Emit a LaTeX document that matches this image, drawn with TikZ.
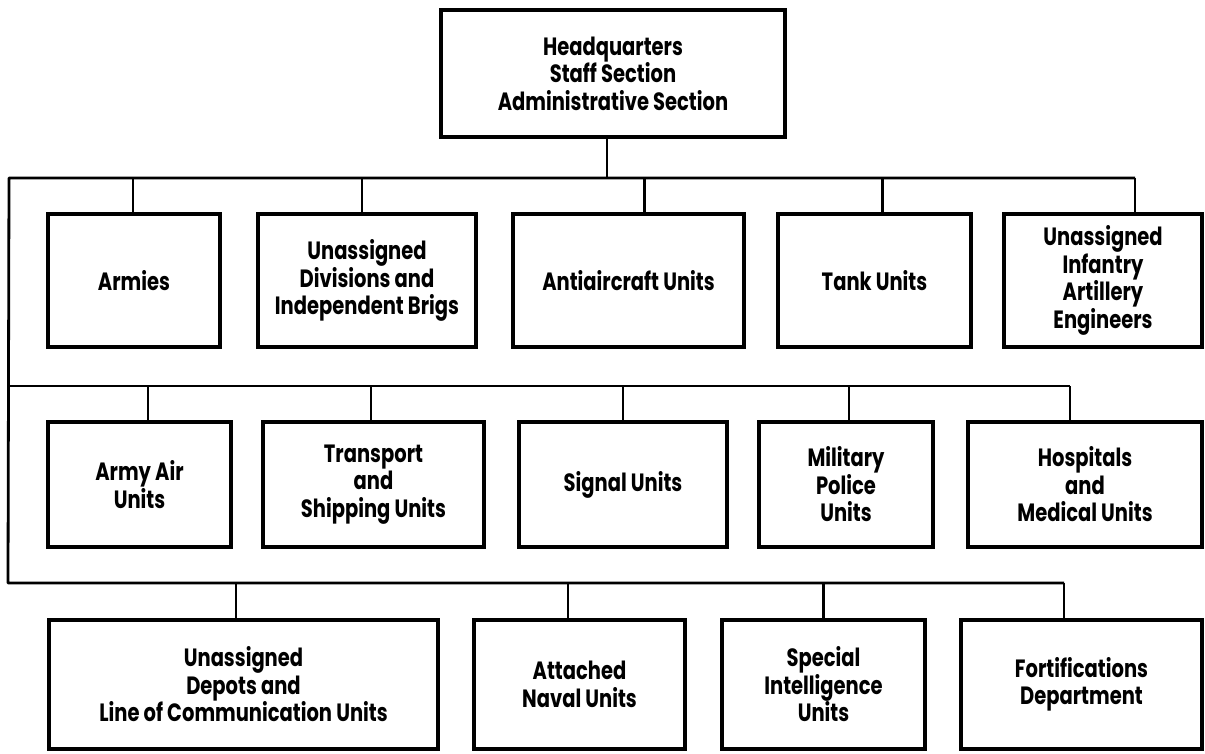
\documentclass[tikz,border=0pt]{standalone}
\usepackage{fontspec}
\newfontfamily\orgfont{Poppins}[FakeStretch=0.78]
\usepackage{tikz}
\usetikzlibrary{positioning, calc}

\tikzset{
  unit/.style={draw, line width=3.4pt, align=center, inner sep=2pt,
    font=\orgfont\bfseries\fontsize{25}{27.5}\selectfont},
  link/.style={line width=2.8pt},
}

\begin{document}
\begin{tikzpicture}[x=1pt, y=-1pt]
      \useasboundingbox (0,0) rectangle (1205,753);

      \node[unit, minimum width=344, minimum height=127] (hq) at (613,73.5) {Headquarters\\Staff Section\\Administrative Section};

      \coordinate (b1l) at (9,178);  \coordinate (b1r) at (1135,178);
      \coordinate (b2l) at (8,386);  \coordinate (b2r) at (1070,386);
      \coordinate (b3l) at (8,583);  \coordinate (b3r) at (1064,583);

      \node[unit, minimum width=172, minimum height=133] (armies) at (134,280.5) {Armies};
      \node[unit, minimum width=218, minimum height=133] (divs) at (367,280.5) {Unassigned\\Divisions and\\Independent Brigs};
      \node[unit, minimum width=231, minimum height=133] (aa) at (628.5,280.5) {Antiaircraft Units};
      \node[unit, minimum width=193, minimum height=133] (tank) at (874.5,280.5) {Tank Units};
      \node[unit, minimum width=198, minimum height=133] (uinf) at (1103,280.5) {Unassigned\\Infantry\\Artillery\\Engineers};

      \node[unit, minimum width=183, minimum height=125] (air) at (139.5,484.5) {Army Air\\Units};
      \node[unit, minimum width=221, minimum height=125] (trans) at (373.5,484.5) {Transport\\and\\Shipping Units};
      \node[unit, minimum width=208, minimum height=125] (signal) at (623,484.5) {Signal Units};
      \node[unit, minimum width=174, minimum height=125] (mp) at (846,484.5) {Military\\Police\\Units};
      \node[unit, minimum width=234, minimum height=125] (hosp) at (1085,484.5) {Hospitals\\and\\Medical Units};

      \node[unit, minimum width=389, minimum height=129] (depots) at (243.5,684.5) {Unassigned\\Depots and\\Line of Communication Units};
      \node[unit, minimum width=211, minimum height=129] (naval) at (579.5,684.5) {Attached\\Naval Units};
      \node[unit, minimum width=203, minimum height=129] (spec) at (823.5,684.5) {Special\\Intelligence\\Units};
      \node[unit, minimum width=241, minimum height=129] (fort) at (1081.5,684.5) {Fortifications\\Department};

      % buses
      \draw[link, line join=round] (b1r) -- (b1l) -- (b3l) -- (b3r);
      \draw[link] (b2l) -- (b2r);
      \draw[link] ([xshift=-6]hq.south) -- ([xshift=-6]hq.south |- b1l);

      % drops to the boxes
      \foreach \n/\dx in {armies/-1, divs/-5, aa/16, tank/8, uinf/32}
        \draw[link] ([xshift=\dx]\n.north) -- ([xshift=\dx]\n.north |- b1l);
      \foreach \n/\dx in {air/8.5, trans/-2.5, signal/0, mp/3, hosp/-15}
        \draw[link] ([xshift=\dx]\n.north) -- ([xshift=\dx]\n.north |- b2l);
      \foreach \n/\dx in {depots/-7.5, naval/-11.5, spec/0, fort/-17.5}
        \draw[link] ([xshift=\dx]\n.north) -- ([xshift=\dx]\n.north |- b3l);
    \end{tikzpicture}
\end{document}
